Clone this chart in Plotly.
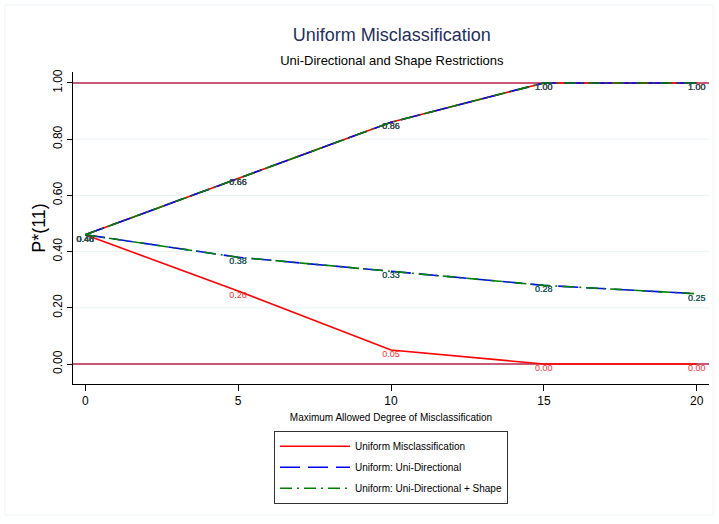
import plotly.graph_objects as go

x_vals = [0, 5, 10, 15, 20]
uniform_upper = [0.46, 0.66, 0.86, 1.00, 1.00]
uniform_lower = [0.46, 0.26, 0.05, 0.00, 0.00]
unidir_upper = [0.46, 0.66, 0.86, 1.00, 1.00]
unidir_lower = [0.46, 0.38, 0.33, 0.28, 0.25]
shape_upper = [0.46, 0.66, 0.86, 1.00, 1.00]
shape_lower = [0.46, 0.38, 0.33, 0.28, 0.25]

y_ticks = [0.0, 0.2, 0.4, 0.6, 0.8, 1.0]
y_ticklabels = ["0.00", "0.20", "0.40", "0.60", "0.80", "1.00"]
x_ticks = [0, 5, 10, 15, 20]
ref_lines = [0.0, 1.0]

series = [
    ("Uniform Misclassification", uniform_upper, uniform_lower, "#FF0000", "#FF3030", "solid"),
    ("Uniform: Uni-Directional", unidir_upper, unidir_lower, "#0000FF", "#2040A0", "20px,8px"),
    ("Uniform: Uni-Directional + Shape", shape_upper, shape_lower, "#008000", "#1E5C3C", "12px,5px,2px,5px"),
]

FONT = "Liberation Sans, Arial, Helvetica, sans-serif"

fig = go.Figure()
for name, up, lo, col, tcol, dash in series:
    for i, ys in enumerate([up, lo]):
        fig.add_trace(go.Scatter(
            x=x_vals, y=ys, mode="lines+text",
            text=[f"{v:.2f}" for v in ys], textposition="bottom center",
            textfont=dict(family=FONT, size=9, color=tcol),
            line=dict(color=col, width=1.6, dash=dash),
            name=name, legendgroup=name, showlegend=(i == 0),
        ))

# light grid lines (drawn as shapes so the reference lines sit on top of them)
for yv in y_ticks:
    if yv not in ref_lines:
        fig.add_hline(y=yv, line=dict(color="#EAF1F3", width=1), layer="below")
for yv in ref_lines:
    fig.add_hline(y=yv, line=dict(color="#B8224A", width=1.6), layer="below")

# outer graph-region border
fig.add_shape(type="rect", xref="paper", yref="paper",
              x0=-0.107, x1=1.0065, y0=-0.42, y1=1.215,
              line=dict(color="#EEF4F6", width=1), fillcolor="rgba(0,0,0,0)")

fig.update_layout(
    width=719, height=524,
    margin=dict(l=73, r=10, t=72, b=140),
    paper_bgcolor="white", plot_bgcolor="white",
    font=dict(family=FONT, color="black"),
    title=dict(
        text="Uniform Misclassification<br><span style='font-size:13px;color:black'>Uni-Directional and Shape Restrictions</span>",
        x=0.545, xanchor="center", y=0.921, yanchor="top",
        font=dict(family=FONT, size=18, color="#1F2F5E"),
    ),
    xaxis=dict(
        range=[-0.4, 20.4], tickvals=x_ticks, ticks="outside", ticklen=6,
        tickcolor="black", showline=True, linecolor="black", linewidth=1,
        showgrid=False, zeroline=False, tickfont=dict(size=12),
        title=dict(text="Maximum Allowed Degree of Misclassification",
                   font=dict(size=10), standoff=6),
    ),
    yaxis=dict(
        range=[-0.071, 1.039], tickvals=y_ticks, ticktext=y_ticklabels,
        tickangle=-90, ticks="outside", ticklen=5, tickcolor="black",
        showline=True, linecolor="black", linewidth=1,
        showgrid=False, zeroline=False,
        tickfont=dict(size=12),
        title=dict(text="P*(11)", font=dict(size=18), standoff=0),
    ),
    legend=dict(
        x=0.5, xanchor="center", y=-0.15, yanchor="top",
        bordercolor="#333333", borderwidth=1, bgcolor="white",
        font=dict(size=10), itemwidth=70, tracegroupgap=2,
    ),
    showlegend=True,
)

fig.write_html("out.html", config={"displayModeBar": False},
               post_script="document.body.style.margin='0';document.body.style.overflow='hidden';")
